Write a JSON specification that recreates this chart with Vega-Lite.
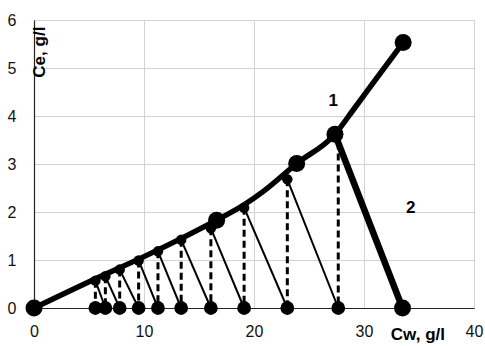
{
  "$schema": "https://vega.github.io/schema/vega-lite/v6.json",
  "width": 440,
  "height": 288,
  "autosize": {"type": "none"},
  "padding": {"left": 34, "top": 20, "right": 11, "bottom": 38},
  "background": "white",
  "config": {
    "view": {"stroke": null},
    "axis": {
      "grid": true,
      "gridColor": "#d3d3d3",
      "gridWidth": 1,
      "domainColor": "#222222",
      "domainWidth": 1.2,
      "ticks": false,
      "tickSize": 0,
      "labelFont": "Liberation Sans",
      "labelFontSize": 16,
      "labelColor": "#111111",
      "labelFlush": false,
      "labelOverlap": false,
      "title": null
    }
  },
  "datasets": {
    "curve1": [
      {"x": 0, "y": 0},
      {"x": 5.5, "y": 0.6},
      {"x": 10, "y": 1.07},
      {"x": 13.4, "y": 1.45},
      {"x": 16.6, "y": 1.83},
      {"x": 19.1, "y": 2.15},
      {"x": 20.85, "y": 2.43},
      {"x": 23.88, "y": 3.01},
      {"x": 27.36, "y": 3.62},
      {"x": 29, "y": 4.12},
      {"x": 31, "y": 4.74},
      {"x": 33.56, "y": 5.53}
    ],
    "line2": [
      {"x": 27.36, "y": 3.62},
      {"x": 33.5, "y": 0}
    ],
    "steps": [
      {"x": 5.58, "y": 0.57, "next": 6.49},
      {"x": 6.49, "y": 0.66, "next": 7.79},
      {"x": 7.79, "y": 0.8, "next": 9.51},
      {"x": 9.51, "y": 0.99, "next": 11.27},
      {"x": 11.27, "y": 1.18, "next": 13.38},
      {"x": 13.38, "y": 1.42, "next": 16.08},
      {"x": 16.08, "y": 1.66, "next": 19.1},
      {"x": 19.1, "y": 2.09, "next": 23.03},
      {"x": 23.03, "y": 2.68, "next": 27.66}
    ],
    "lastDash": [
      {"x": 27.66, "y": 3.45}
    ],
    "bottom": [
      {"x": 5.58, "y": 0},
      {"x": 6.49, "y": 0},
      {"x": 7.79, "y": 0},
      {"x": 9.51, "y": 0},
      {"x": 11.27, "y": 0},
      {"x": 13.38, "y": 0},
      {"x": 16.08, "y": 0},
      {"x": 19.1, "y": 0},
      {"x": 23.03, "y": 0},
      {"x": 27.66, "y": 0}
    ],
    "big": [
      {"x": 0, "y": 0},
      {"x": 16.6, "y": 1.83},
      {"x": 23.88, "y": 3.01},
      {"x": 27.36, "y": 3.62},
      {"x": 33.56, "y": 5.53},
      {"x": 33.5, "y": 0}
    ],
    "labels": [
      {"x": 27.2, "y": 4.31, "label": "1"},
      {"x": 34.25, "y": 2.08, "label": "2"},
      {"x": 34.9, "y": -0.56, "label": "Cw, g/l"}
    ],
    "ylabel": [
      {"x": 0.55, "y": 5.33, "label": "Ce, g/l"}
    ]
  },
  "encoding": {
    "x": {
      "field": "x",
      "type": "quantitative",
      "scale": {"domain": [0, 40], "nice": false, "zero": false},
      "axis": {"values": [0, 10, 20, 30, 40], "labelPadding": 15, "labelOverlap": false}
    },
    "y": {
      "field": "y",
      "type": "quantitative",
      "scale": {"domain": [0, 6], "nice": false, "zero": false},
      "axis": {"values": [0, 1, 2, 3, 4, 5, 6], "labelPadding": 18, "labelOverlap": false}
    }
  },
  "layer": [
    {
      "data": {"name": "steps"},
      "mark": {"type": "rule", "color": "black", "strokeWidth": 3, "strokeDash": [7, 4]},
      "encoding": {"y2": {"datum": 0}}
    },
    {
      "data": {"name": "lastDash"},
      "mark": {"type": "rule", "color": "black", "strokeWidth": 3, "strokeDash": [7, 4]},
      "encoding": {"y2": {"datum": 0}}
    },
    {
      "data": {"name": "steps"},
      "mark": {"type": "rule", "color": "black", "strokeWidth": 2},
      "encoding": {"x2": {"field": "next"}, "y2": {"datum": 0}}
    },
    {
      "data": {"name": "curve1"},
      "mark": {"type": "line", "color": "black", "strokeWidth": 5.5, "interpolate": "monotone"},
      "encoding": {"order": {"field": "x"}}
    },
    {
      "data": {"name": "line2"},
      "mark": {"type": "line", "color": "black", "strokeWidth": 6.5},
      "encoding": {}
    },
    {
      "data": {"name": "steps"},
      "mark": {"type": "point", "filled": true, "color": "black", "opacity": 1, "size": 110, "shape": "circle"},
      "encoding": {}
    },
    {
      "data": {"name": "bottom"},
      "mark": {"type": "point", "filled": true, "color": "black", "opacity": 1, "size": 190, "shape": "circle"},
      "encoding": {}
    },
    {
      "data": {"name": "big"},
      "mark": {"type": "point", "filled": true, "color": "black", "opacity": 1, "size": 290, "shape": "circle"},
      "encoding": {}
    },
    {
      "data": {"name": "labels"},
      "mark": {"type": "text", "font": "Liberation Sans", "fontWeight": "bold", "fontSize": 17, "color": "black", "align": "center", "baseline": "middle"},
      "encoding": {"text": {"field": "label"}}
    },
    {
      "data": {"name": "ylabel"},
      "mark": {"type": "text", "font": "Liberation Sans", "fontWeight": "bold", "fontSize": 17, "color": "black", "align": "center", "baseline": "middle", "angle": 270},
      "encoding": {"text": {"field": "label"}}
    }
  ]
}
